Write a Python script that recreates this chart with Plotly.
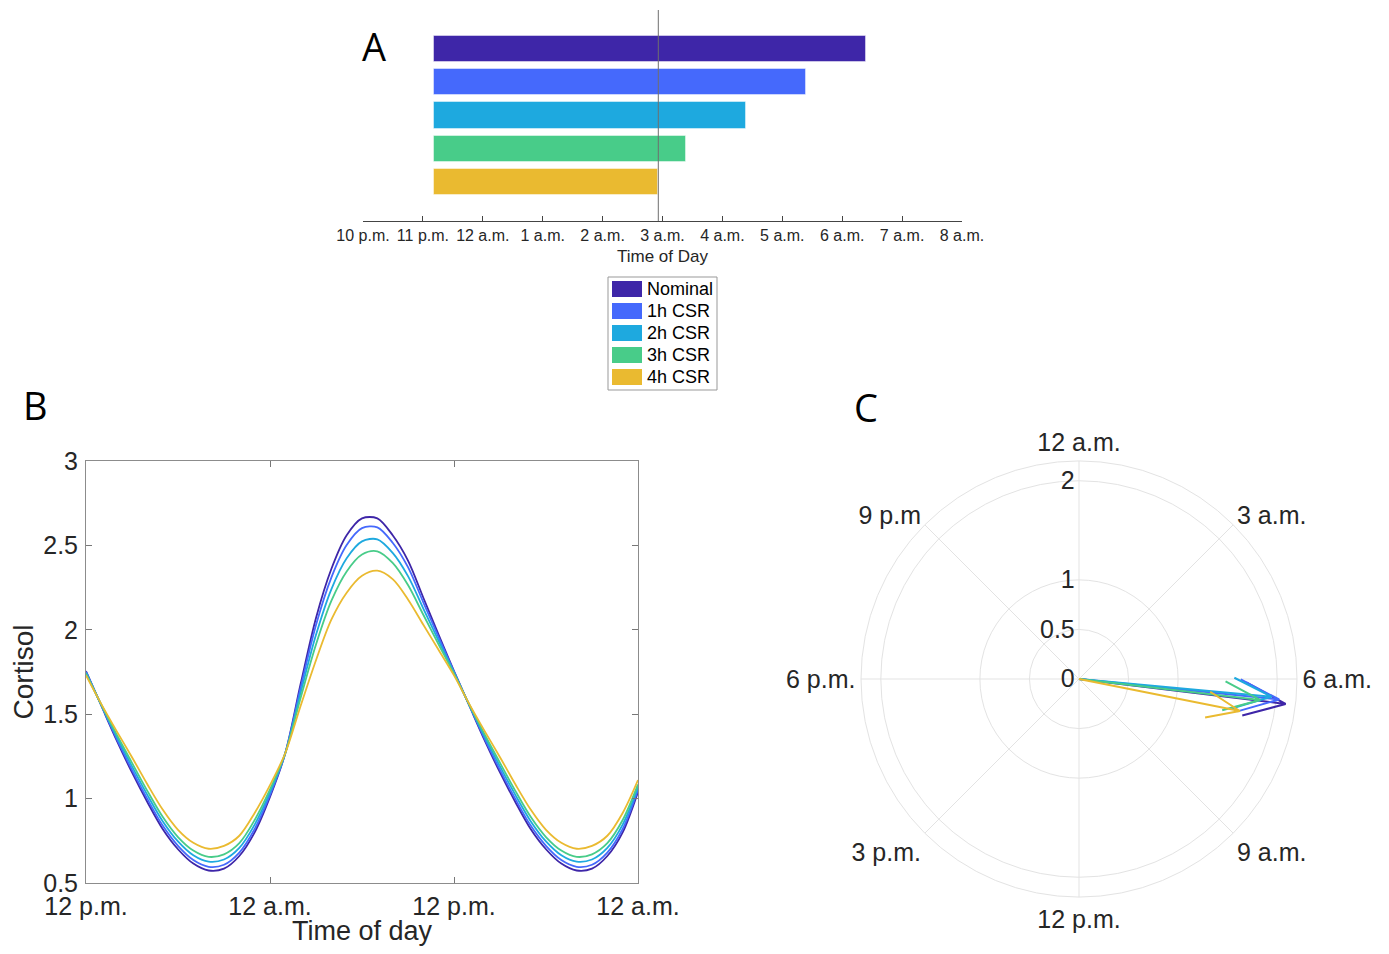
import numpy as np
import plotly.graph_objects as go

# page body has an 8px margin; the figure is sized to fit inside the window
OFF = 8
W, H = 1389 - 2 * OFF, 954 - 2 * OFF


def px(x):
    return (x - OFF) / W


def py(y):
    return 1 - (y - OFF) / H


FONT = "Liberation Sans, Arial, sans-serif"
TXT = "#262626"

# ---------------- data ----------------
series = ["Nominal", "1h CSR", "2h CSR", "3h CSR", "4h CSR"]
colors = ["#3E26A8", "#4569FC", "#1EA9DF", "#48CC89", "#EABA30"]

# Panel A: sleep windows (clock hours, values > 24 are next day)
sleep_start = [23.18, 23.18, 23.18, 23.18, 23.18]
sleep_end = [30.40, 29.40, 28.40, 27.40, 26.93]
ref_time = 26.93
a_tickvals = [22, 23, 24, 25, 26, 27, 28, 29, 30, 31, 32]
a_ticktext = ["10 p.m.", "11 p.m.", "12 a.m.", "1 a.m.", "2 a.m.", "3 a.m.",
              "4 a.m.", "5 a.m.", "6 a.m.", "7 a.m.", "8 a.m."]

# Panel B: cortisol, hours since 12 p.m.
hours = list(range(0, 37))
cort_nominal = [1.756, 1.550, 1.345, 1.155, 0.980, 0.820, 0.700, 0.615, 0.574, 0.585,
                0.660, 0.800, 1.010, 1.270, 1.680, 2.070, 2.360, 2.560, 2.660, 2.660,
                2.560, 2.410, 2.190, 1.970, 1.756, 1.550, 1.345, 1.155, 0.980, 0.820,
                0.700, 0.615, 0.574, 0.585, 0.660, 0.800, 1.040]
cort_1h = [1.752, 1.552, 1.354, 1.170, 0.998, 0.840, 0.720, 0.636, 0.596, 0.608,
           0.680, 0.820, 1.022, 1.270, 1.658, 2.028, 2.309, 2.502, 2.602, 2.607,
           2.516, 2.371, 2.163, 1.955, 1.752, 1.552, 1.354, 1.170, 0.998, 0.840,
           0.720, 0.636, 0.596, 0.608, 0.680, 0.820, 1.052]
cort_2h = [1.746, 1.554, 1.367, 1.191, 1.022, 0.866, 0.746, 0.664, 0.626, 0.639,
           0.708, 0.846, 1.038, 1.270, 1.628, 1.970, 2.240, 2.424, 2.524, 2.536,
           2.456, 2.318, 2.126, 1.934, 1.746, 1.554, 1.367, 1.191, 1.022, 0.866,
           0.746, 0.664, 0.626, 0.639, 0.708, 0.846, 1.068]
cort_3h = [1.740, 1.556, 1.380, 1.212, 1.046, 0.892, 0.772, 0.692, 0.655, 0.670,
           0.736, 0.873, 1.054, 1.270, 1.598, 1.913, 2.171, 2.346, 2.446, 2.465,
           2.396, 2.265, 2.089, 1.913, 1.740, 1.556, 1.380, 1.212, 1.046, 0.892,
           0.772, 0.692, 0.655, 0.670, 0.736, 0.873, 1.084]
cort_4h = [1.730, 1.560, 1.400, 1.245, 1.085, 0.935, 0.815, 0.738, 0.703, 0.720,
           0.780, 0.915, 1.080, 1.270, 1.550, 1.820, 2.060, 2.220, 2.320, 2.350,
           2.300, 2.180, 2.030, 1.880, 1.730, 1.560, 1.400, 1.245, 1.085, 0.935,
           0.815, 0.738, 0.703, 0.720, 0.780, 0.915, 1.110]
cortisol = [cort_nominal, cort_1h, cort_2h, cort_3h, cort_4h]
b_tickvals = [0, 12, 24, 36]
b_ticktext = ["12 p.m.", "12 a.m.", "12 p.m.", "12 a.m."]
b_ytickvals = [0.5, 1, 1.5, 2, 2.5, 3]
b_yticktext = ["0.5", "1", "1.5", "2", "2.5", "3"]

# Panel C: amplitude and phase (clock hour of peak)
amplitude = [2.10, 2.03, 1.95, 1.84, 1.655]
phase_hour = [6.46, 6.39, 6.35, 6.44, 6.75]
c_tickvals = [0, 45, 90, 135, 180, 225, 270, 315]
c_ticktext = ["12 a.m.", "3 a.m.", "6 a.m.", "9 a.m.", "12 p.m.", "3 p.m.", "6 p.m.", "9 p.m"]
c_rtickvals = [0, 0.5, 1, 2]
c_rticktext = ["0", "0.5", "1", "2"]

fig = go.Figure()

# ---------------- Panel A ----------------
for i, name in enumerate(series):
    fig.add_trace(go.Bar(
        y=[i], x=[sleep_end[i] - sleep_start[i]], base=[sleep_start[i]],
        orientation="h", width=0.79, name=name,
        marker=dict(color=colors[i], line=dict(color="rgba(255,255,255,0.45)", width=1)),
        xaxis="x", yaxis="y", showlegend=False, hoverinfo="skip"))

# ---------------- Panel B ----------------
for i, name in enumerate(series):
    fig.add_trace(go.Scatter(
        x=hours, y=cortisol[i], mode="lines", name=name,
        line=dict(color=colors[i], width=1.8, shape="spline", smoothing=0.9),
        xaxis="x2", yaxis="y2", showlegend=False, hoverinfo="skip"))

# ---------------- Panel C ----------------
head_r = float(np.hypot(0.8, 0.08))
head_a = float(np.degrees(np.arctan2(0.08, 0.8)))
for i, name in enumerate(series):
    A = amplitude[i]
    th = phase_hour[i] * 15.0
    fig.add_trace(go.Scatterpolar(
        r=[0, A, head_r * A, A, head_r * A],
        theta=[th, th, th - head_a, th, th + head_a],
        mode="lines", name=name,
        line=dict(color=colors[i], width=2),
        subplot="polar", showlegend=False, hoverinfo="skip"))

# ---------------- shapes: reference line + manual legend ----------------
shapes = [dict(type="line", xref="x", yref="y domain", x0=ref_time, x1=ref_time,
               y0=0, y1=1, line=dict(color="#6e6e6e", width=1), layer="above")]
annotations = []
for i, name in enumerate(series):
    yc = 289 + 22 * i
    shapes.append(dict(type="rect", xref="paper", yref="paper",
                       x0=px(612), x1=px(642), y0=py(yc + 8), y1=py(yc - 8),
                       line=dict(width=0), fillcolor=colors[i]))
    annotations.append(dict(text=name, xref="paper", yref="paper",
                            x=px(645), y=py(yc), xanchor="left", yanchor="middle",
                            showarrow=False, font=dict(family=FONT, size=18, color="black")))
shapes.append(dict(type="rect", xref="paper", yref="paper", layer="above",
                   x0=px(608), x1=px(717), y0=py(390), y1=py(277),
                   line=dict(color="#999999", width=1)))

for letter, (lx, ly) in {"A": (374, 46), "B": (35, 405), "C": (866, 407)}.items():
    annotations.append(dict(text=letter, xref="paper", yref="paper", x=px(lx), y=py(ly),
                            xanchor="center", yanchor="middle", showarrow=False,
                            font=dict(family="Open Sans, sans-serif", size=38, color="black")))

fig.update_layout(
    width=W, height=H, margin=dict(l=0, r=0, t=0, b=0, autoexpand=False),
    paper_bgcolor="white", plot_bgcolor="white",
    font=dict(family=FONT, color=TXT),
    bargap=0,
    xaxis=dict(domain=[px(363), px(962)], range=[22, 32], anchor="y", automargin=False,
               tickmode="array", tickvals=a_tickvals, ticktext=a_ticktext,
               ticks="inside", ticklen=5, tickcolor="#444", showline=True,
               linecolor="#444", linewidth=1, showgrid=False, zeroline=False,
               tickfont=dict(size=16, color=TXT),
               title=dict(text="Time of Day", font=dict(size=17, color=TXT), standoff=6)),
    yaxis=dict(domain=[py(221), py(10)], range=[5.17, -1.17], visible=False,
               anchor="x", showgrid=False, zeroline=False, automargin=False),
    xaxis2=dict(domain=[px(86), px(638)], range=[0, 36], anchor="y2", automargin=False,
                tickmode="array", tickvals=b_tickvals, ticktext=b_ticktext,
                ticks="inside", ticklen=6, tickcolor="#777", showline=True,
                linecolor="#8c8c8c", linewidth=1, mirror="ticks", showgrid=False,
                zeroline=False, tickfont=dict(size=25, color=TXT), ticklabelstandoff=1,
                title=dict(text="Time of day", font=dict(size=27, color=TXT), standoff=17)),
    yaxis2=dict(domain=[py(883), py(461)], range=[0.5, 3], anchor="x2", automargin=False,
                tickmode="array", tickvals=b_ytickvals, ticktext=b_yticktext,
                ticks="inside", ticklen=6, tickcolor="#777", showline=True,
                linecolor="#8c8c8c", linewidth=1, mirror="ticks", showgrid=False,
                zeroline=False, tickfont=dict(size=25, color=TXT), ticklabelstandoff=2,
                title=dict(text="Cortisol", font=dict(size=28, color=TXT), standoff=4)),
    polar=dict(
        domain=dict(x=[px(861), px(1297)], y=[py(897), py(461)]),
        bgcolor="white",
        angularaxis=dict(rotation=90, direction="clockwise", tickmode="array",
                         tickvals=c_tickvals, ticktext=c_ticktext, ticks="",
                         showline=True, linecolor="#e3e3e3", gridcolor="#e3e3e3",
                         tickfont=dict(size=25, color=TXT)),
        radialaxis=dict(range=[0, 2.2], tickmode="array", tickvals=c_rtickvals,
                        ticktext=c_rticktext, angle=90, side="counterclockwise",
                        tickangle=90, ticks="", showline=False, gridcolor="#e3e3e3",
                        tickfont=dict(size=25, color=TXT)),
    ),
    shapes=shapes, annotations=annotations,
)

fig.write_html("out.html")
